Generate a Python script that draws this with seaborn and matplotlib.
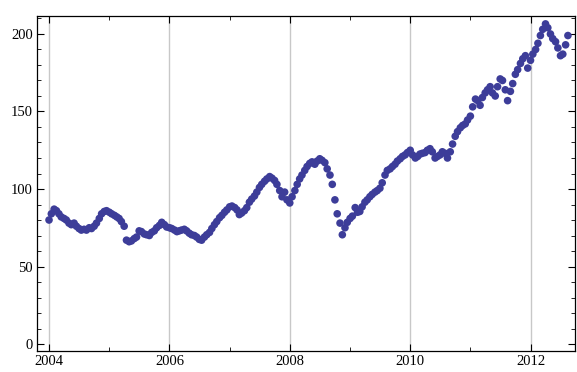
import matplotlib
matplotlib.use("Agg")
import matplotlib.pyplot as plt
import matplotlib.dates as mdates
from matplotlib.ticker import MultipleLocator
import pandas as pd
import seaborn as sns

# Semi-monthly readings (1st and 15th of each month)
values_2004 = [80, 84, 87, 86, 84, 82, 81, 80, 78, 77, 78, 76,
               74.5, 73.5, 74, 73.5, 75, 74.5, 76, 78, 81, 84, 85.5, 86]
values_2005 = [85, 84, 83, 82, 81, 79, 76, 67, 66, 66.5, 68, 69,
               73, 72.5, 71, 70.5, 70, 72, 73, 75, 76.5, 78.5, 77, 75.5]
values_2006 = [75, 74.5, 73.5, 72.5, 73, 73.5, 74, 73, 71.5, 70.5, 70, 69,
               67.5, 67, 69, 70.5, 72, 74.5, 77, 79, 81.5, 83, 85, 86.5]
values_2007 = [88.5, 89, 88, 86.5, 83.5, 84.5, 86, 88, 91.5, 93.5, 95.5, 98,
               101, 103, 105, 106.5, 108, 107, 105.5, 103, 99, 95, 98, 93]
values_2008 = [91, 95, 99, 103, 106.5, 109, 112, 114.5, 116.5, 117.5, 116, 118,
               119.5, 118.5, 117, 113, 109, 103, 93, 84, 78, 70.5, 75, 78.5]
values_2009 = [81, 82.5, 88, 85, 85.5, 88.5, 91.5, 93, 95, 96.5, 98, 99,
               100.5, 104, 109, 112, 113, 114.5, 116, 118, 119.5, 121, 122, 123.5]
values_2010 = [125, 122, 120, 121, 122.5, 123, 123.5, 125, 126, 124, 120, 121,
               122, 124, 123, 120, 124, 129, 134, 137, 139.5, 141, 142, 144.5]
values_2011 = [147, 153, 158, 157, 154, 159, 162, 164, 166, 162, 160, 166,
               171, 170, 164, 157, 163, 168, 174, 177, 181, 184, 186, 178]
values_2012 = [183, 187, 190, 194, 199, 203, 206.5, 204, 200, 197, 195, 191,
               186, 187, 193, 199]

prices = (values_2004 + values_2005 + values_2006 + values_2007 + values_2008
          + values_2009 + values_2010 + values_2011 + values_2012)
dates = pd.date_range("2004-01-01", periods=len(prices), freq="SMS")
df = pd.DataFrame({"date": dates, "price": prices})

sns.set_style("ticks")
plt.rcParams["font.family"] = ["Liberation Serif", "DejaVu Serif"]

W, H = 577, 372
fig = plt.figure(figsize=(W / 100, H / 100), dpi=100)
ax = fig.add_axes([37 / W, 1 - 351 / H, (575 - 37) / W, (351 - 16) / H])

sns.scatterplot(data=df, x="date", y="price", ax=ax, s=30,
                color="#3d3d99", edgecolor="none", linewidth=0, zorder=3)

ax.set_xlim(pd.Timestamp("2003-10-20"), pd.Timestamp("2012-09-27"))
ax.set_ylim(-4.5, 211.6)

ax.xaxis.set_major_locator(mdates.YearLocator(2))
ax.xaxis.set_major_formatter(mdates.DateFormatter("%Y"))
ax.xaxis.set_minor_locator(mdates.YearLocator(1))
ax.yaxis.set_major_locator(MultipleLocator(50))
ax.yaxis.set_minor_locator(MultipleLocator(10))

ax.tick_params(which="both", direction="in", top=True, right=True,
               labelsize=10.5, colors="black")
ax.tick_params(which="major", length=5, width=0.8, pad=3)
ax.tick_params(which="minor", length=3, width=0.6)
ax.grid(axis="x", which="major", color="#c8c8c8", linewidth=1, zorder=0)
for sp in ax.spines.values():
    sp.set_visible(True)
    sp.set_linewidth(0.9)
    sp.set_color("black")
ax.set_xlabel("")
ax.set_ylabel("")

fig.savefig("out.png", dpi=100)
